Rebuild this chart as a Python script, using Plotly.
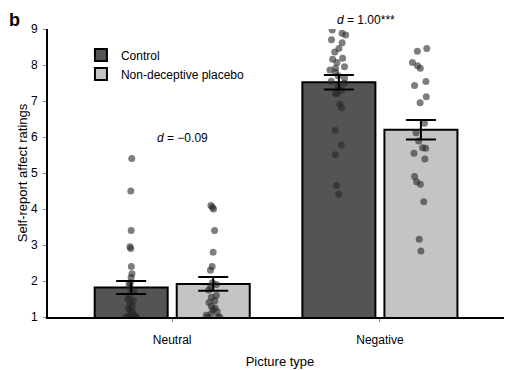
import plotly.graph_objects as go

categories = ["Neutral", "Negative"]
series_names = ["Control", "Non-deceptive placebo"]

mean_control = [1.82, 7.52]
mean_ndp = [1.92, 6.20]
sem_control = [0.18, 0.20]
sem_ndp = [0.19, 0.27]

neutral_control = [5.4, 4.5, 3.4, 2.95, 2.9, 2.4, 2.2, 2.1, 1.95, 1.9, 1.8, 1.7,
                   1.6, 1.5, 1.45, 1.4, 1.3, 1.25, 1.2, 1.15, 1.1, 1.05, 1.0,
                   1.0, 1.0, 1.0, 1.0]
neutral_ndp = [4.1, 4.05, 4.0, 3.4, 2.8, 2.4, 2.3, 1.95, 1.9, 1.85, 1.75, 1.6,
               1.55, 1.45, 1.4, 1.3, 1.25, 1.2, 1.15, 1.1, 1.05, 1.0, 1.0, 1.0]
negative_control = [8.97, 8.88, 8.83, 8.7, 8.62, 8.46, 8.36, 8.19, 8.16, 8.07,
                    7.95, 7.91, 7.86, 7.8, 7.7, 7.63, 7.55, 7.49, 7.4, 7.3,
                    7.21, 7.21, 6.92, 6.81, 6.19, 5.78, 5.51, 4.65, 4.41]
negative_ndp = [8.46, 8.38, 8.07, 7.98, 7.91, 7.54, 7.43, 7.12, 6.95, 6.38,
                6.12, 5.89, 5.70, 5.69, 5.55, 5.39, 4.90, 4.76, 4.69, 4.20,
                3.16, 2.83]

effect_labels = ["<i>d</i> = \u22120.09", "<i>d</i> = 1.00***"]
effect_y = [5.97, 9.5]

Y_MIN, Y_MAX = 1, 9

FONT = "Liberation Sans, Arial, sans-serif"
dark = "#545454"
light = "#c4c4c4"
dot = "rgba(40,40,40,0.6)"
GAP = 0.21

fig = go.Figure()

# bars
for name, means, col, grp in [(series_names[0], mean_control, dark, "c"),
                              (series_names[1], mean_ndp, light, "n")]:
    fig.add_trace(go.Bar(
        x=categories, y=means, name=name, offsetgroup=grp,
        marker=dict(color=col, line=dict(color="black", width=2)),
    ))

# jittered individual points
for vals_neu, vals_neg, grp in [(neutral_control, negative_control, "c"),
                                (neutral_ndp, negative_ndp, "n")]:
    xs = [categories[0]] * len(vals_neu) + [categories[1]] * len(vals_neg)
    ys = vals_neu + vals_neg
    fig.add_trace(go.Box(
        x=xs, y=ys, offsetgroup=grp, boxpoints="all", jitter=0.25, pointpos=0,
        fillcolor="rgba(0,0,0,0)", line=dict(color="rgba(0,0,0,0)", width=0),
        whiskerwidth=0, showlegend=False,
        marker=dict(color=dot, size=7, line=dict(width=0)),
        hoveron="points",
    ))

# error bars on top
for means, sems, grp in [(mean_control, sem_control, "c"), (mean_ndp, sem_ndp, "n")]:
    fig.add_trace(go.Scatter(
        x=categories, y=means, offsetgroup=grp, mode="markers",
        marker=dict(size=1, color="rgba(0,0,0,0)"),
        error_y=dict(type="data", array=sems, visible=True, color="black",
                     thickness=2, width=15),
        showlegend=False,
    ))

annotations = [
    dict(x=categories[0], y=effect_y[0], xref="x", yref="y", text=effect_labels[0],
         showarrow=False, xshift=10, font=dict(size=12, color="black", family=FONT)),
    dict(x=categories[1], y=(effect_y[1] - Y_MIN) / (Y_MAX - Y_MIN), xref="x",
         yref="paper", text=effect_labels[1],
         showarrow=False, xshift=-14, font=dict(size=12, color="black", family=FONT)),
    dict(x=-0.088, y=1.072, xref="paper", yref="paper", yanchor="top",
         text="<b>b</b>",
         showarrow=False, font=dict(size=18, color="black", family=FONT)),
]

fig.update_layout(
    width=504, height=362,
    margin=dict(l=40, r=0, t=21, b=53),
    paper_bgcolor="white", plot_bgcolor="white",
    font=dict(family=FONT, size=12, color="black"),
    barmode="group", bargap=GAP, bargroupgap=0.11,
    boxmode="group", boxgap=GAP, boxgroupgap=0.11,
    scattermode="group", scattergap=GAP,
    showlegend=True,
    legend=dict(x=0.071, y=0.96, xanchor="left", yanchor="top",
                bgcolor="rgba(0,0,0,0)", tracegroupgap=0,
                font=dict(size=12, family=FONT)),
    annotations=annotations,
)
fig.update_xaxes(
    type="category", range=[-0.598, 1.636],
    showline=True, linecolor="black", linewidth=2,
    ticks="outside", ticklen=3, tickcolor="#888", showgrid=False, zeroline=False,
    ticklabelstandoff=8,
    title=dict(text="Picture type", font=dict(size=13), standoff=10),
)
fig.update_yaxes(
    range=[Y_MIN, Y_MAX], tickvals=[1, 2, 3, 4, 5, 6, 7, 8, 9],
    showline=True, linecolor="black", linewidth=2,
    ticks="outside", ticklen=3, tickcolor="#888", showgrid=False, zeroline=False,
    ticklabelstandoff=3,
    title=dict(text="Self-report affect ratings", font=dict(size=13), standoff=0),
)

fig.write_html("out.html")
